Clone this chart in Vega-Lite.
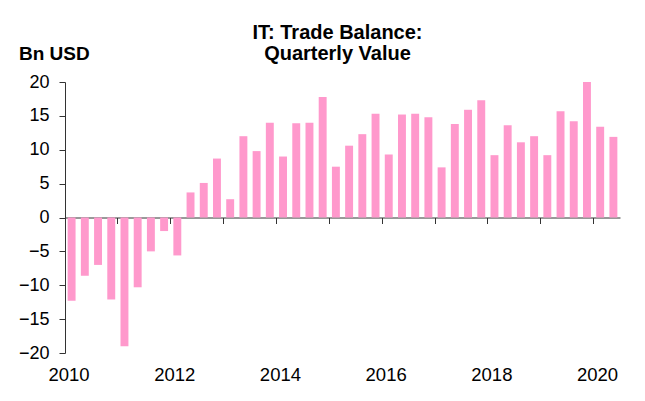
{
  "$schema": "https://vega.github.io/schema/vega-lite/v6.json",
  "width": 555,
  "height": 271,
  "autosize": {"type": "none"},
  "padding": {"left": 65, "top": 82, "right": 25, "bottom": 48},
  "background": "white",
  "config": {"view": {"stroke": null}, "font": "Liberation Sans"},
  "title": {
    "text": ["IT: Trade Balance:", "Quarterly Value"],
    "fontSize": 20,
    "fontWeight": "bold",
    "color": "black",
    "lineHeight": 21,
    "anchor": "middle",
    "dx": -5,
    "dy": 40,
    "offset": 20
  },
  "data": {
    "values": [
      {"q": "2010 Q1", "v": -12.3}, {"q": "2010 Q2", "v": -8.6}, {"q": "2010 Q3", "v": -7.0}, {"q": "2010 Q4", "v": -12.1},
      {"q": "2011 Q1", "v": -19.0}, {"q": "2011 Q2", "v": -10.3}, {"q": "2011 Q3", "v": -5.0}, {"q": "2011 Q4", "v": -2.0},
      {"q": "2012 Q1", "v": -5.6}, {"q": "2012 Q2", "v": 3.7}, {"q": "2012 Q3", "v": 5.1}, {"q": "2012 Q4", "v": 8.7},
      {"q": "2013 Q1", "v": 2.7}, {"q": "2013 Q2", "v": 12.0}, {"q": "2013 Q3", "v": 9.8}, {"q": "2013 Q4", "v": 14.0},
      {"q": "2014 Q1", "v": 9.0}, {"q": "2014 Q2", "v": 13.9}, {"q": "2014 Q3", "v": 14.0}, {"q": "2014 Q4", "v": 17.8},
      {"q": "2015 Q1", "v": 7.5}, {"q": "2015 Q2", "v": 10.6}, {"q": "2015 Q3", "v": 12.3}, {"q": "2015 Q4", "v": 15.3},
      {"q": "2016 Q1", "v": 9.3}, {"q": "2016 Q2", "v": 15.2}, {"q": "2016 Q3", "v": 15.3}, {"q": "2016 Q4", "v": 14.8},
      {"q": "2017 Q1", "v": 7.4}, {"q": "2017 Q2", "v": 13.8}, {"q": "2017 Q3", "v": 15.9}, {"q": "2017 Q4", "v": 17.3},
      {"q": "2018 Q1", "v": 9.2}, {"q": "2018 Q2", "v": 13.6}, {"q": "2018 Q3", "v": 11.1}, {"q": "2018 Q4", "v": 12.0},
      {"q": "2019 Q1", "v": 9.2}, {"q": "2019 Q2", "v": 15.7}, {"q": "2019 Q3", "v": 14.2}, {"q": "2019 Q4", "v": 20.0},
      {"q": "2020 Q1", "v": 13.4}, {"q": "2020 Q2", "v": 11.9}
    ]
  },
  "mark": {"type": "bar", "color": "#ff99cc"},
  "encoding": {
    "x": {
      "field": "q",
      "type": "ordinal",
      "sort": null,
      "scale": {"type": "band", "paddingInner": 0.4, "paddingOuter": 0.2},
      "axis": {
        "title": null,
        "values": ["2010 Q1", "2011 Q1", "2012 Q1", "2013 Q1", "2014 Q1", "2015 Q1", "2016 Q1", "2017 Q1", "2018 Q1", "2019 Q1", "2020 Q1"],
        "labelExpr": "toNumber(substring(datum.value, 0, 4)) % 2 == 0 ? substring(datum.value, 0, 4) : ''",
        "offset": -135.5,
        "bandPosition": -0.3333,
        "tickSize": 6,
        "tickColor": "#333333",
        "domainColor": "#333333",
        "labelPadding": 142,
        "labelAngle": 0,
        "labelFontSize": 18.5,
        "labelColor": "black",
        "labelBaseline": "top",
        "labelOffset": -2.6,
        "grid": false
      }
    },
    "y": {
      "field": "v",
      "type": "quantitative",
      "scale": {"domain": [-20, 20], "nice": false},
      "axis": {
        "values": [-20, -15, -10, -5, 0, 5, 10, 15, 20],
        "grid": false,
        "tickSize": 6,
        "tickColor": "#333333",
        "domainColor": "#333333",
        "labelPadding": 10,
        "labelFontSize": 18,
        "labelColor": "black",
        "title": "Bn USD",
        "titleAngle": 0,
        "titleAlign": "left",
        "titleBaseline": "alphabetic",
        "titleX": -46.5,
        "titleY": -22.7,
        "titleFontSize": 19,
        "titleFontWeight": "bold",
        "titleColor": "black"
      }
    }
  }
}
